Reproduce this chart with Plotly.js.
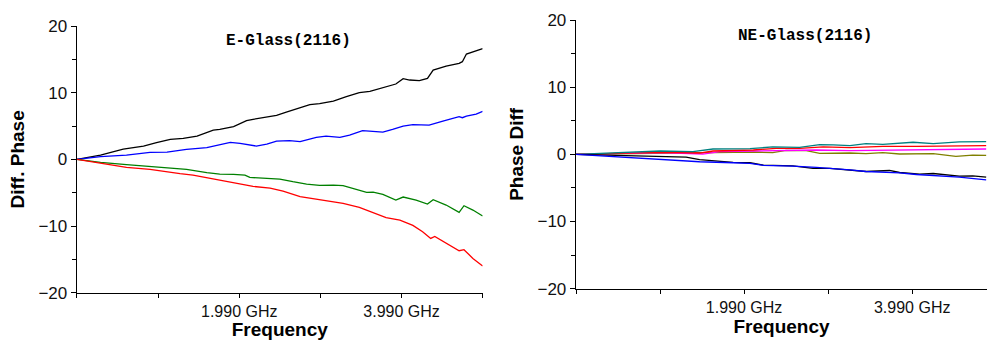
<!DOCTYPE html>
<html>
<head>
<meta charset="utf-8">
<script src="https://cdn.plot.ly/plotly-3.0.1.min.js"></script>
<style>html,body{margin:0;padding:0;background:#fff;}#chart{width:987px;height:340px;}</style>
</head>
<body>
<div id="chart"></div>
<script>
// ---------- Tick labels ----------
const freqTickVals = [-0.01, 0.99, 1.99, 2.99, 3.99, 4.99];
const freqTickText = ['', '', '1.990 GHz', '', '3.990 GHz', ''];

// ---------- Left panel: E-Glass(2116) ----------
const eBlackF = [-0.01,0.28,0.56,0.81,0.97,1.14,1.30,1.47,1.67,1.75,1.92,2.08,2.16,2.29,2.45,2.57,2.74,2.86,2.98,3.15,3.31,3.47,3.60,3.68,3.84,3.92,4.01,4.09,4.21,4.31,4.38,4.46,4.54,4.70,4.74,4.79,4.87,4.99];
const eBlackV = [0,0.65,1.55,2.0,2.5,3.0,3.15,3.5,4.4,4.5,4.9,5.8,6.0,6.3,6.6,7.1,7.75,8.2,8.35,8.75,9.4,10.0,10.2,10.5,11.0,11.3,12.1,11.9,11.8,12.15,13.4,13.75,14.0,14.4,14.65,15.8,16.15,16.6];

const eBlueF = [-0.01,0.28,0.60,0.89,1.10,1.34,1.59,1.75,1.88,2.00,2.20,2.33,2.45,2.61,2.74,2.94,3.06,3.23,3.35,3.51,3.60,3.76,3.88,4.01,4.13,4.33,4.50,4.70,4.74,4.79,4.91,4.99];
const eBlueV = [0,0.4,0.65,1.05,1.1,1.5,1.75,2.25,2.55,2.4,2.0,2.3,2.75,2.8,2.65,3.3,3.5,3.3,3.65,4.3,4.2,4.1,4.5,5.0,5.2,5.15,5.75,6.4,6.25,6.5,6.8,7.2];

const eGreenF = [-0.01,0.28,0.60,0.89,1.10,1.34,1.59,1.75,1.92,2.06,2.12,2.33,2.49,2.65,2.82,2.98,3.15,3.27,3.39,3.56,3.64,3.76,3.92,4.01,4.17,4.31,4.38,4.54,4.70,4.76,4.87,4.99];
const eGreenV = [0,-0.45,-0.8,-1.1,-1.25,-1.5,-2.0,-2.2,-2.25,-2.35,-2.7,-2.85,-2.95,-3.35,-3.7,-3.9,-3.85,-3.95,-4.4,-4.95,-4.9,-5.25,-6.1,-5.65,-6.1,-6.7,-6.05,-6.85,-7.95,-6.95,-7.6,-8.5];

const eRedF = [-0.01,0.28,0.60,0.89,1.10,1.26,1.42,1.67,1.92,2.16,2.37,2.53,2.74,2.90,3.06,3.27,3.47,3.64,3.80,3.97,4.13,4.25,4.35,4.40,4.54,4.70,4.76,4.87,4.99];
const eRedV = [0,-0.6,-1.2,-1.5,-1.9,-2.15,-2.35,-2.95,-3.5,-4.05,-4.3,-4.75,-5.6,-5.9,-6.1,-6.6,-7.2,-8.0,-8.75,-9.1,-9.9,-10.85,-11.85,-11.55,-12.6,-13.7,-13.55,-14.85,-16.0];

// ---------- Right panel: NE-Glass(2116) ----------
const nTealF = [-0.01,0.99,1.38,1.62,2.06,2.33,2.65,2.89,3.05,3.25,3.44,3.64,4.00,4.24,4.55,4.87];
const nTealV = [0,0.5,0.4,0.8,0.85,1.1,1.05,1.45,1.4,1.3,1.6,1.5,1.8,1.6,1.85,1.9];

const nRedF = [-0.01,0.99,1.46,1.62,2.10,2.37,2.65,2.93,3.25,3.64,4.04,4.43,4.87];
const nRedV = [0,0.3,0.2,0.5,0.65,0.9,0.9,1.1,1.0,1.2,1.2,1.25,1.3];

const nMagentaF = [-0.01,0.99,1.50,1.70,2.10,2.45,2.85,3.25,3.64,4.04,4.43,4.87];
const nMagentaV = [0,0.25,0.05,0.4,0.5,0.6,0.65,0.55,0.6,0.75,0.7,0.8];

const nOliveF = [-0.01,0.99,1.46,1.70,2.10,2.33,2.49,2.73,2.89,3.25,3.44,3.64,3.84,4.24,4.51,4.71,4.87];
const nOliveV = [0,0.2,0.25,0.3,0.35,0.25,0.6,0.55,0.15,0.2,0.1,0.25,0.05,0.1,-0.3,-0.1,-0.15];

const nBlackF = [-0.01,0.67,0.99,1.30,1.46,1.66,1.86,2.06,2.22,2.57,2.81,3.01,3.25,3.44,3.72,3.84,4.08,4.24,4.55,4.71,4.87];
const nBlackV = [0,-0.15,-0.3,-0.4,-0.8,-1.05,-1.2,-1.25,-1.6,-1.7,-2.1,-2.1,-2.3,-2.55,-2.4,-2.7,-2.95,-2.85,-3.25,-3.2,-3.4];

const nBlueF = [-0.01,0.28,0.67,0.99,1.30,1.46,1.86,2.06,2.22,2.57,2.85,3.05,3.25,3.44,3.84,4.04,4.24,4.55,4.87];
const nBlueV = [0,-0.2,-0.45,-0.7,-0.9,-1.1,-1.25,-1.35,-1.65,-1.75,-1.95,-2.1,-2.3,-2.55,-2.75,-3.0,-3.15,-3.4,-3.8];

function line(x, y, color, xa, ya) {
  return {x: x, y: y, type: 'scatter', mode: 'lines', xaxis: xa, yaxis: ya,
          line: {color: color, width: 1.3}, hoverinfo: 'skip', showlegend: false};
}

const traces = [
  line(eBlackF, eBlackV, '#000000', 'x', 'y'),
  line(eBlueF, eBlueV, '#0000ff', 'x', 'y'),
  line(eGreenF, eGreenV, '#008000', 'x', 'y'),
  line(eRedF, eRedV, '#ff0000', 'x', 'y'),
  line(nOliveF, nOliveV, '#808000', 'x2', 'y2'),
  line(nMagentaF, nMagentaV, '#ff00ff', 'x2', 'y2'),
  line(nRedF, nRedV, '#ff0000', 'x2', 'y2'),
  line(nTealF, nTealV, '#008080', 'x2', 'y2'),
  line(nBlackF, nBlackV, '#000000', 'x2', 'y2'),
  line(nBlueF, nBlueV, '#0000ff', 'x2', 'y2')
];

const yTickFont = {family: 'Liberation Sans, Arial, sans-serif', size: 17, color: '#111'};
const xTickFont = {family: 'Liberation Sans, Arial, sans-serif', size: 16, color: '#111'};
const titleFont = {family: 'Liberation Sans, Arial, sans-serif', size: 19, color: '#000', weight: 'bold'};

function xAxis(domain, range, anchor) {
  return {
    domain: domain, range: range, anchor: anchor,
    tickmode: 'array', tickvals: freqTickVals, ticktext: freqTickText,
    ticks: 'outside', ticklen: 4, tickwidth: 1, tickcolor: '#000',
    showline: true, linecolor: '#000', linewidth: 1.3,
    showgrid: false, zeroline: false, tickfont: xTickFont,
    title: {text: 'Frequency', font: titleFont, standoff: 3}
  };
}
function yAxis(domain, anchor, title) {
  return {
    domain: domain, range: [-20, 20], anchor: anchor,
    tickmode: 'linear', tick0: 0, dtick: 10,
    ticks: 'outside', ticklen: 5, tickwidth: 1, tickcolor: '#000',
    minor: {dtick: 5, tick0: 0, ticks: 'outside', ticklen: 4, tickcolor: '#000', showgrid: false},
    showline: true, linecolor: '#000', linewidth: 1.3,
    showgrid: false, zeroline: false, tickfont: yTickFont,
    title: {text: title, font: titleFont, standoff: 8}
  };
}

const layout = {
  width: 987, height: 340,
  margin: {l: 0, r: 0, t: 0, b: 0},
  paper_bgcolor: '#fff', plot_bgcolor: '#fff',
  showlegend: false,
  xaxis: xAxis([0.078, 0.489], [-0.01, 4.99], 'y'),
  yaxis: yAxis([0.139, 0.9235], 'x', 'Diff. Phase'),
  xaxis2: xAxis([0.5836, 1.0], [-0.01, 4.88], 'y2'),
  yaxis2: yAxis([0.151, 0.941], 'x2', 'Phase Diff'),
  annotations: [
    {text: 'E-Glass(2116)', xref: 'paper', yref: 'paper', x: 288 / 987, y: 1 - 41 / 340,
     xanchor: 'center', yanchor: 'middle', showarrow: false,
     font: {family: 'Liberation Mono, Courier New, monospace', size: 16, color: '#000', weight: 'bold'}},
    {text: 'NE-Glass(2116)', xref: 'paper', yref: 'paper', x: 805 / 987, y: 1 - 36 / 340,
     xanchor: 'center', yanchor: 'middle', showarrow: false,
     font: {family: 'Liberation Mono, Courier New, monospace', size: 16, color: '#000', weight: 'bold'}}
  ]
};

Plotly.newPlot('chart', traces, layout, {staticPlot: true, displayModeBar: false});
</script>
</body>
</html>
